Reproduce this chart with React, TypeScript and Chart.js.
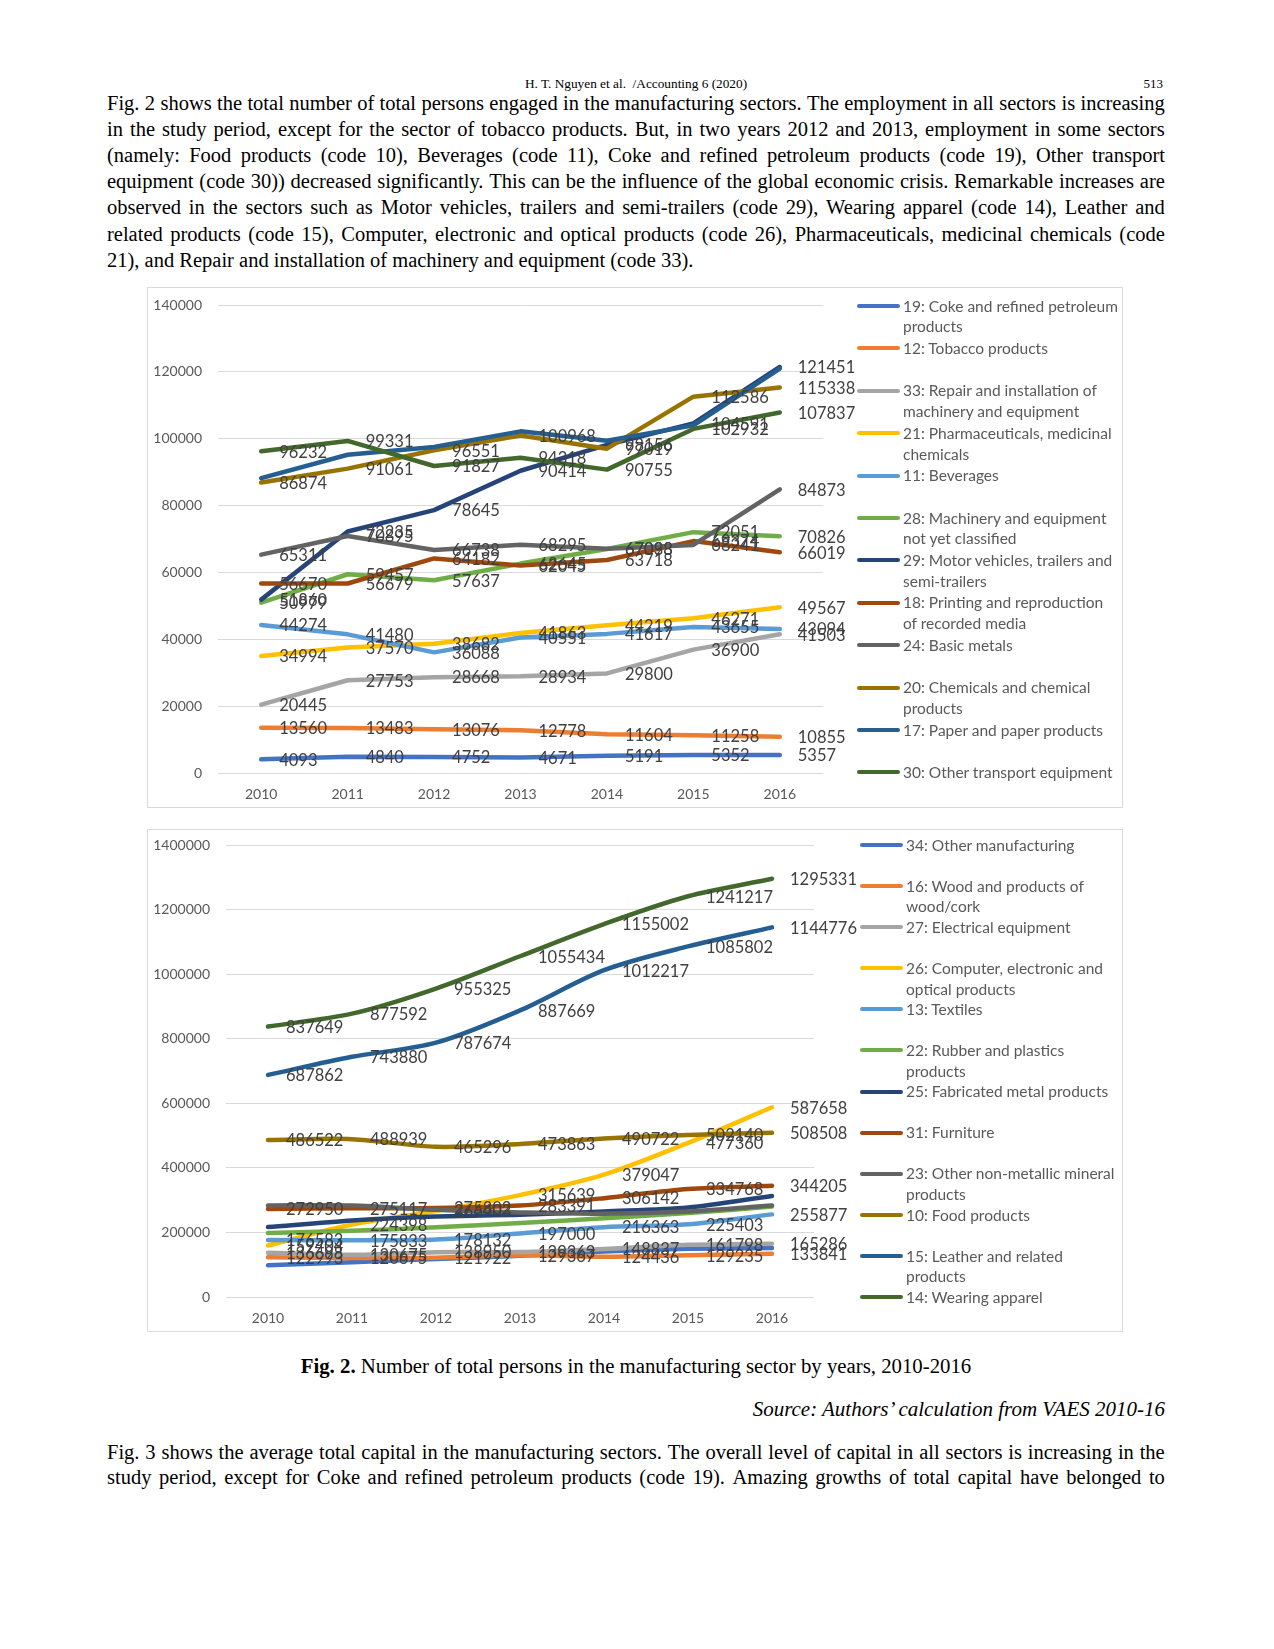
import React, { useEffect, useRef } from "react";
import { Chart, registerables } from "chart.js";

Chart.register(...registerables);

// ---------- DATA ----------
const years = ["2010", "2011", "2012", "2013", "2014", "2015", "2016"];

// Upper panel (series names, legend order; "\n" marks legend wrap)
const topNames = [
  "19: Coke and refined petroleum\nproducts",
  "12: Tobacco products",
  "33: Repair and installation of\nmachinery and equipment",
  "21: Pharmaceuticals, medicinal\nchemicals",
  "11: Beverages",
  "28: Machinery and equipment\nnot yet classified",
  "29: Motor vehicles, trailers and\nsemi-trailers",
  "18: Printing and reproduction\nof recorded media",
  "24: Basic metals",
  "20: Chemicals and chemical\nproducts",
  "17: Paper and paper products",
  "30: Other transport equipment",
];
const coke19 = [4093, 4840, 4752, 4671, 5191, 5352, 5357];
const tobacco12 = [13560, 13483, 13076, 12778, 11604, 11258, 10855];
const repair33 = [20445, 27753, 28668, 28934, 29800, 36900, 41503];
const pharma21 = [34994, 37570, 38682, 41863, 44219, 46271, 49567];
const beverages11 = [44274, 41480, 36088, 40551, 41617, 43655, 43094];
const machinery28 = [50979, 59457, 57637, 62645, 67033, 72051, 70826];
const motor29 = [51860, 72235, 78645, 90414, 98156, 104591, 121451];
const printing18 = [56670, 56679, 64182, 62045, 63718, 69374, 66019];
const basicMetals24 = [65311, 70895, 66738, 68295, 67098, 68241, 84873];
const chemicals20 = [86874, 91061, 96551, 100968, 97019, 112586, 115338];
const paper17 = [88200, 95200, 97500, 102200, 99400, 104000, 121000];
const otherTransport30 = [96232, 99331, 91827, 94318, 90755, 102932, 107837];
const topSeries = [coke19, tobacco12, repair33, pharma21, beverages11, machinery28, motor29, printing18, basicMetals24, chemicals20, paper17, otherTransport30];
const topLabelled = [true, true, true, true, true, true, true, true, true, true, false, true];
const topTicks = { max: 140000, step: 20000 };

// Lower panel
const bottomNames = [
  "34: Other manufacturing",
  "16: Wood and products of\nwood/cork",
  "27: Electrical equipment",
  "26: Computer, electronic and\noptical products",
  "13: Textiles",
  "22: Rubber and plastics\nproducts",
  "25: Fabricated metal products",
  "31: Furniture",
  "23: Other non-metallic mineral\nproducts",
  "10: Food products",
  "15: Leather and related\nproducts",
  "14: Wearing apparel",
];
const otherMfg34 = [98000, 108000, 117500, 128000, 141000, 149500, 151500];
const wood16 = [122993, 120675, 121922, 129367, 124436, 129235, 133841];
const electrical27 = [136698, 130675, 138950, 139363, 148837, 161798, 165286];
const computer26 = [159404, 224398, 266403, 315639, 379047, 477360, 587658];
const textiles13 = [176583, 175833, 178132, 197000, 216363, 225403, 255877];
const rubber22 = [198000, 205000, 216000, 229000, 244000, 260000, 280000];
const fabricated25 = [216500, 237000, 249500, 255000, 265000, 277000, 313000];
const furniture31 = [272950, 275117, 275802, 283391, 306142, 334768, 344205];
const nonMetallic23 = [283500, 283500, 270000, 262000, 258000, 265000, 283500];
const food10 = [486522, 488939, 465296, 473863, 490722, 502140, 508508];
const leather15 = [687862, 743880, 787674, 887669, 1012217, 1085802, 1144776];
const apparel14 = [837649, 877592, 955325, 1055434, 1155002, 1241217, 1295331];
const bottomSeries = [otherMfg34, wood16, electrical27, computer26, textiles13, rubber22, fabricated25, furniture31, nonMetallic23, food10, leather15, apparel14];
const bottomLabelled = [false, true, true, true, true, false, false, true, false, true, true, true];
const bottomTicks = { max: 1400000, step: 200000 };

// ---------- STYLE ----------
const palette = ["#4472C4", "#ED7D31", "#A5A5A5", "#FFC000", "#5B9BD5", "#70AD47", "#264478", "#9E480E", "#636363", "#997300", "#255E91", "#43682B"];
const serif = '"Liberation Serif","Times New Roman",Times,serif';
const sans = 'Lato, "Open Sans", sans-serif';

const para1 = [
  "Fig. 2 shows the total number of total persons engaged in the manufacturing sectors. The employment in all sectors is increasing",
  "in the study period, except for the sector of tobacco products. But, in two years 2012 and 2013, employment in some sectors",
  "(namely: Food products (code 10), Beverages (code 11), Coke and refined petroleum products (code 19), Other transport",
  "equipment (code 30)) decreased significantly. This can be the influence of the global economic crisis. Remarkable increases are",
  "observed in the sectors such as Motor vehicles, trailers and semi-trailers (code 29), Wearing apparel (code 14), Leather and",
  "related products (code 15), Computer, electronic and optical products (code 26), Pharmaceuticals, medicinal chemicals (code",
  "21), and Repair and installation of machinery and equipment (code 33).",
];
const para2 = [
  "Fig. 3 shows the average total capital in the manufacturing sectors. The overall level of capital in all sectors is increasing in the",
  "study period, except for Coke and refined petroleum products (code 19). Amazing growths of total capital have belonged to",
];

const valueLabelPlugin = {
  id: "valueLabels",
  afterDatasetsDraw(chart: any) {
    const ctx = chart.ctx;
    ctx.save();
    ctx.font = "16.5px " + sans;
    ctx.fillStyle = "#404040";
    ctx.textAlign = "left";
    ctx.textBaseline = "middle";
    chart.data.datasets.forEach((ds: any, di: number) => {
      if (!ds.showLabels) return;
      const meta = chart.getDatasetMeta(di);
      meta.data.forEach((pt: any, i: number) => {
        ctx.fillText(String(ds.data[i]), pt.x + 18, pt.y + 1);
      });
    });
    ctx.restore();
  },
};

type Cfg = {
  box: { x: number; y: number; w: number; h: number };
  plotTop: number;
  yAxisW: number;
  padRight: number;
  xAxisH: number;
  tension: number;
  names: string[];
  series: number[][];
  labelled: boolean[];
  ticks: { max: number; step: number };
  legend: { x: number; y0: number; step: number };
};

const topCfg: Cfg = {
  box: { x: 147, y: 287, w: 976, h: 521 },
  plotTop: 18,
  yAxisW: 71,
  padRight: 300,
  xAxisH: 35,
  tension: 0,
  names: topNames,
  series: topSeries,
  labelled: topLabelled,
  ticks: topTicks,
  legend: { x: 857, y0: 306, step: 42.4 },
};

const bottomCfg: Cfg = {
  box: { x: 147, y: 829, w: 976, h: 503 },
  plotTop: 16,
  yAxisW: 79,
  padRight: 309,
  xAxisH: 35,
  tension: 0.3,
  names: bottomNames,
  series: bottomSeries,
  labelled: bottomLabelled,
  ticks: bottomTicks,
  legend: { x: 860, y0: 845, step: 41.1 },
};

function ChartBox({ cfg }: { cfg: Cfg }) {
  const ref = useRef<HTMLCanvasElement>(null);
  useEffect(() => {
    const canvas = ref.current;
    if (!canvas) return;
    const chart = new Chart(canvas, {
      type: "line",
      data: {
        labels: years,
        datasets: cfg.series.map((d, i) => ({
          label: cfg.names[i].replace("\n", " "),
          data: d,
          borderColor: palette[i],
          backgroundColor: palette[i],
          borderWidth: 4.5,
          pointRadius: 0,
          pointHoverRadius: 0,
          tension: cfg.tension,
          borderCapStyle: "round",
          borderJoinStyle: "round",
          fill: false,
          order: -i,
          showLabels: cfg.labelled[i],
        })) as any,
      },
      options: {
        animation: false,
        responsive: false,
        devicePixelRatio: 1,
        layout: { padding: { left: 0, right: cfg.padRight, top: cfg.plotTop, bottom: 0 } },
        plugins: { legend: { display: false }, tooltip: { enabled: false } },
        scales: {
          x: {
            type: "category",
            offset: true,
            grid: { display: false, drawTicks: false },
            border: { display: false },
            ticks: { color: "#595959", font: { size: 14, family: sans }, padding: 13, maxRotation: 0, autoSkip: false },
            afterFit: (s: any) => {
              s.height = cfg.xAxisH;
              s.paddingLeft = 0;
              s.paddingRight = 0;
            },
          },
          y: {
            min: 0,
            max: cfg.ticks.max,
            grid: { color: "#D9D9D9", lineWidth: 1, drawTicks: false },
            border: { display: false },
            ticks: {
              stepSize: cfg.ticks.step,
              color: "#595959",
              font: { size: 14, family: sans },
              padding: 16,
              callback: (v: any) => String(v),
            },
            afterFit: (s: any) => {
              s.width = cfg.yAxisW;
              s.paddingTop = 0;
              s.paddingBottom = 0;
            },
          },
        },
      } as any,
      plugins: [valueLabelPlugin],
    });
    return () => chart.destroy();
  }, [cfg]);

  const { box, legend } = cfg;
  return (
    <>
      <canvas
        ref={ref}
        width={box.w}
        height={box.h}
        style={{ position: "absolute", left: box.x, top: box.y, width: box.w, height: box.h }}
      />
      <div
        style={{
          position: "absolute",
          left: box.x,
          top: box.y,
          width: box.w,
          height: box.h,
          border: "1px solid #D9D9D9",
          boxSizing: "border-box",
          pointerEvents: "none",
        }}
      />
      {cfg.names.map((n, i) => {
        const yc = legend.y0 + i * legend.step;
        return (
          <div key={i} style={{ position: "absolute", left: legend.x, top: yc - 10.35, width: 262, height: 42 }}>
            <div
              style={{
                position: "absolute",
                left: 0,
                top: 8.35,
                width: 43,
                height: 4,
                borderRadius: 2,
                background: palette[i],
              }}
            />
            <div
              style={{
                position: "absolute",
                left: 46,
                top: 0,
                whiteSpace: "pre",
                fontFamily: sans,
                fontSize: 15.5,
                lineHeight: "20.7px",
                color: "#595959",
              }}
            >
              {n}
            </div>
          </div>
        );
      })}
    </>
  );
}

function TextLine({ text, center, justify }: { text: string; center: number; justify: boolean }) {
  const base: React.CSSProperties = {
    position: "absolute",
    left: 107,
    top: center - 13,
    width: 1058,
    height: 26,
    lineHeight: "26px",
    fontFamily: serif,
    fontSize: 20.5,
    color: "#000",
    whiteSpace: "nowrap",
  };
  if (!justify) return <div style={base}>{text}</div>;
  const words = text.split(" ");
  return (
    <div style={{ ...base, display: "flex", justifyContent: "space-between" }}>
      {words.map((w, i) => (
        <span key={i}>{w}</span>
      ))}
    </div>
  );
}

export default function App() {
  return (
    <div style={{ position: "absolute", left: 0, top: 0, width: 1274, height: 1649, background: "#fff", overflow: "hidden" }}>
      <div
        style={{
          position: "absolute",
          left: 107,
          top: 84 - 9,
          width: 1058,
          textAlign: "center",
          fontFamily: serif,
          fontSize: 13.3,
          lineHeight: "18px",
        }}
      >
        H. T. Nguyen et al. &nbsp;/Accounting 6 (2020)
      </div>
      <div
        style={{
          position: "absolute",
          left: 1063,
          top: 84 - 9,
          width: 100,
          textAlign: "right",
          fontFamily: serif,
          fontSize: 13,
          lineHeight: "18px",
        }}
      >
        513
      </div>
      {para1.map((t, i) => (
        <TextLine key={i} text={t} center={102.5 + i * 26.2} justify={i < para1.length - 1} />
      ))}

      <ChartBox cfg={topCfg} />
      <ChartBox cfg={bottomCfg} />

      <div
        style={{
          position: "absolute",
          left: 107,
          top: 1366 - 13,
          width: 1058,
          lineHeight: "26px",
          textAlign: "center",
          fontFamily: serif,
          fontSize: 20.8,
        }}
      >
        <b>Fig. 2.</b> Number of total persons in the manufacturing sector by years, 2010-2016
      </div>
      <div
        style={{
          position: "absolute",
          left: 107,
          top: 1409 - 13,
          width: 1058,
          lineHeight: "26px",
          textAlign: "right",
          fontFamily: serif,
          fontSize: 21,
          fontStyle: "italic",
        }}
      >
        Source: Authors’ calculation from VAES 2010-16
      </div>
      {para2.map((t, i) => (
        <TextLine key={"p2" + i} text={t} center={1451.5 + i * 25} justify={true} />
      ))}
    </div>
  );
}
